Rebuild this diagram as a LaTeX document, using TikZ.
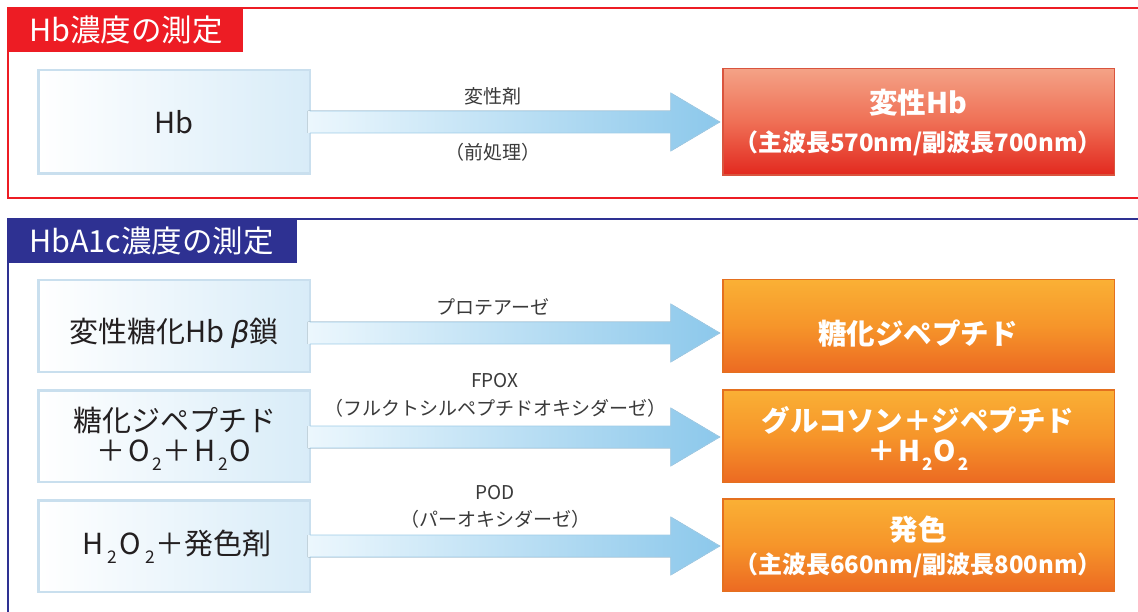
\documentclass[tikz,border=0pt]{standalone}
\usepackage{fontspec}
\usepackage{graphicx}
\setmainfont{Noto Sans CJK JP}
\newfontfamily\grk{DejaVu Sans}
\usetikzlibrary{calc}
\definecolor{hbred}{HTML}{ED1C24}
\definecolor{hbnavy}{HTML}{2E3192}
\definecolor{srcedge}{HTML}{C9DFEE}
\definecolor{srcright}{HTML}{D8ECF8}
\definecolor{txtdark}{HTML}{231F20}
\definecolor{lbl}{HTML}{3A3A3A}
\definecolor{arrL}{HTML}{ECF7FD}
\definecolor{arrR}{HTML}{8CC8EB}
\definecolor{arrEdge}{HTML}{9FCCE8}
\definecolor{redT}{HTML}{F4A286}
\definecolor{redM}{HTML}{EF6F55}
\definecolor{redB}{HTML}{E2281E}
\definecolor{redEdge}{HTML}{D9543E}
\definecolor{orT}{HTML}{FAB035}
\definecolor{orM}{HTML}{F6952A}
\definecolor{orB}{HTML}{EC6A22}
\definecolor{orEdge}{HTML}{E4701F}
\newcommand\dn[1]{\raisebox{-0.32em}{\scalebox{0.6}{#1}}}
\newcommand\flowarrow[4]{%
  \path (#1.east) ++(0,#3) coordinate (#4s);
  \path (#2.west) ++(-3,#3) coordinate (#4t);
  \path let \p1=(#4s), \p2=(#4t) in coordinate (#4t) at (\x2,\y1);
  \fill[arrowfill] ($(#4s)+(-2,-11)$) -- ($(#4t)+(-49,-11)$) -- ($(#4t)+(-49,-29)$) -- (#4t)
     -- ($(#4t)+(-49,29)$) -- ($(#4t)+(-49,11)$) -- ($(#4s)+(-2,11)$) -- cycle;
  \draw[arrowedge] ($(#4s)+(0,-11)$) -- ($(#4t)+(-49,-11)$) -- ($(#4t)+(-49,-29)$) -- (#4t)
     -- ($(#4t)+(-49,29)$) -- ($(#4t)+(-49,11)$) -- ($(#4s)+(0,11)$);
}
\tikzset{
  srcbox/.style={draw=srcedge, line width=2.5pt, left color=white, right color=srcright,
     minimum width=271.5pt, inner sep=0pt, outer sep=0pt},
  redbox/.style={draw=redEdge, line width=1.5pt, top color=redT, bottom color=redB, middle color=redM,
     minimum width=391.5pt, minimum height=106.5pt, inner sep=0pt, outer sep=0pt},
  orbox/.style={draw=orEdge, line width=1.5pt, top color=orT, bottom color=orB, middle color=orM,
     minimum width=391.5pt, minimum height=92.5pt, inner sep=0pt, outer sep=0pt},
  arrowfill/.style={left color=arrL, right color=arrR},
  arrowedge/.style={draw=arrEdge, line width=0.8pt, line join=miter},
  srctext/.style={text=txtdark, font=\fontsize{29}{33}\selectfont, inner sep=0pt, align=center},
  restext/.style={text=white, font=\bfseries\fontsize{28.5}{32}\selectfont, inner sep=0pt, align=center},
  ressub/.style={text=white, font=\bfseries\fontsize{24}{28}\selectfont, inner sep=0pt},
  lbltext/.style={text=lbl, font=\fontsize{19}{23}\selectfont, inner sep=0pt},
  tabtext/.style={text=white, font=\fontsize{30.5}{34}\selectfont, inner sep=0pt, anchor=west},
  frameline/.style={line width=1.6pt}
}
\begin{document}
\begin{tikzpicture}[x=1pt,y=-1pt]
\useasboundingbox[fill=white] (0,0) rectangle (1138,612);
% ---------- frames ----------
\draw[frameline, hbred] (1138,8) -- (8,8) -- (8,198) -- (1138,198);
\fill[hbred] (8,8) rectangle (243,52);
\node[tabtext] (tab1) at (29,30) {Hb濃度の測定};
\draw[frameline, hbnavy] (1138,219) -- (8,219) -- (8,613);
\fill[hbnavy] (8,219) rectangle (297,263);
\node[tabtext] (tab2) at (29,241) {HbA1c濃度の測定};
% ---------- top section ----------
\node[srcbox, minimum height=103.5pt] (hb) at (174,122) {};
\node[srctext] (hbt) at (174,122) {Hb};
\node[redbox] (dhb) at (918.5,122) {};
\node[restext] (dhbt) at (918,103) {変性Hb};
\node[ressub] (dhbs) at (918,143) {（主波長570nm/副波長700nm）};
\flowarrow{hb}{dhb}{0}{a}
\node[lbltext] (l1) at (493,96) {変性剤};
\node[lbltext] (l2) at (493,152) {（前処理）};
% ---------- lower section ----------
\node[srcbox, minimum height=91.5pt] (s1) at (174,326) {};
\node[srcbox, minimum height=91.5pt] (s2) at (174,436) {};
\node[srcbox, minimum height=91.5pt] (s3) at (174,546) {};
\node[srctext] (s1t) at (174,333) {変性糖化Hb\ {\grk\itshape β}鎖};
\node[srctext] (s2t) at (175,420) {糖化ジペプチド};
\node[srctext] (s2u) at (174,455) {＋\hspace{3pt}O\hspace{2pt}\dn{2}\hspace{1pt}＋\hspace{3pt}H\hspace{2pt}\dn{2}\hspace{2pt}O};
\node[srctext] (s3t) at (177,547) {H\hspace{4pt}\dn{2}\hspace{3pt}O\hspace{4pt}\dn{2}\hspace{1pt}＋発色剤};
\node[orbox] (o1) at (918.5,326) {};
\node[orbox] (o2) at (918.5,436) {};
\node[orbox] (o3) at (918.5,545) {};
\node[restext] (o1t) at (918,333) {糖化ジペプチド};
\node[restext] (o2t) at (918,420) {グルコソン＋ジペプチド};
\node[restext] (o2u) at (918,455) {＋\hspace{2pt}H\hspace{2pt}\dn{2}\hspace{1pt}O\hspace{2pt}\dn{2}};
\node[restext] (o3t) at (918,530) {発色};
\node[ressub] (o3s) at (918,565) {（主波長660nm/副波長800nm）};
\flowarrow{s1}{o1}{7}{b}
\flowarrow{s2}{o2}{1}{c}
\flowarrow{s3}{o3}{0}{d}
\node[lbltext] (l3) at (493,307) {プロテアーゼ};
\node[lbltext] (l4) at (495,381) {FPOX};
\node[lbltext] (l5) at (495,408) {（フルクトシルペプチドオキシダーゼ）};
\node[lbltext] (l6) at (495,493) {POD};
\node[lbltext] (l7) at (495,519) {（パーオキシダーゼ）};
\end{tikzpicture}
\end{document}
